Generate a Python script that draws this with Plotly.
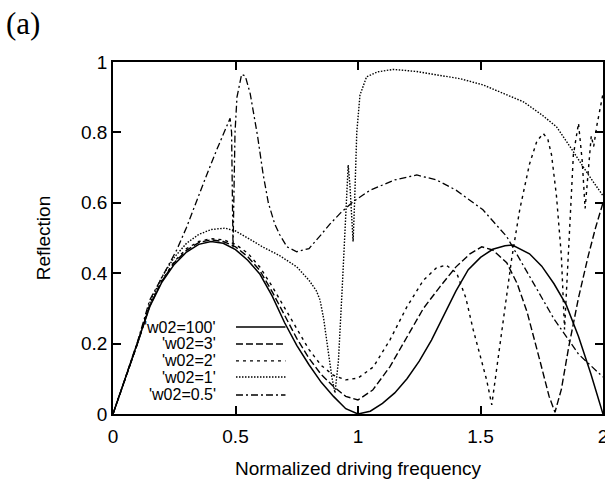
import plotly.graph_objects as go

# ---------------- data ----------------
x_ticks = [0, 0.5, 1, 1.5, 2]
x_tick_labels = ["0", "0.5", "1", "1.5", "2"]
y_ticks = [0, 0.2, 0.4, 0.6, 0.8, 1]
y_tick_labels = ["0", "0.2", "0.4", "0.6", "0.8", "1"]

series_names = ["'w02=100'", "'w02=3'", "'w02=2'", "'w02=1'", "'w02=0.5'"]

w100_x = [0, 0.05, 0.1, 0.15, 0.2, 0.25, 0.3, 0.35, 0.4, 0.45, 0.5, 0.55, 0.6, 0.65, 0.7,
          0.75, 0.8, 0.85, 0.9, 0.95, 1.0, 1.05, 1.1, 1.15, 1.2, 1.25, 1.3, 1.35, 1.4, 1.45,
          1.5, 1.55, 1.6, 1.63, 1.7, 1.75, 1.8, 1.85, 1.9, 1.95, 2.0]
w100_y = [0, 0.1, 0.2, 0.305, 0.375, 0.425, 0.46, 0.482, 0.49, 0.485, 0.467, 0.437, 0.397,
          0.335, 0.26, 0.195, 0.14, 0.09, 0.05, 0.015, 0.0, 0.008, 0.03, 0.06, 0.1, 0.15,
          0.21, 0.28, 0.35, 0.41, 0.445, 0.468, 0.478, 0.48, 0.455, 0.42, 0.37, 0.31, 0.22,
          0.115, 0.0]

w3_x = [0, 0.05, 0.1, 0.15, 0.2, 0.25, 0.3, 0.35, 0.4, 0.45, 0.5, 0.55, 0.6, 0.65, 0.7,
        0.75, 0.8, 0.85, 0.9, 0.95, 1.0, 1.06, 1.13, 1.2, 1.267, 1.335, 1.4, 1.457, 1.505,
        1.55, 1.607, 1.65, 1.69, 1.743, 1.78, 1.804, 1.83, 1.86, 1.9, 1.94, 1.97, 2.0]
w3_y = [0, 0.1, 0.2, 0.307, 0.378, 0.43, 0.465, 0.487, 0.495, 0.49, 0.475, 0.447, 0.407,
        0.347, 0.28, 0.215, 0.158, 0.112, 0.078, 0.05, 0.04, 0.068, 0.134, 0.22, 0.3,
        0.362, 0.418, 0.455, 0.475, 0.466, 0.43, 0.37, 0.29, 0.15, 0.05, 0.005, 0.07,
        0.19, 0.33, 0.45, 0.53, 0.6]

w2_x = [0, 0.05, 0.1, 0.15, 0.2, 0.25, 0.3, 0.35, 0.4, 0.45, 0.5, 0.55, 0.6, 0.65, 0.7,
        0.75, 0.8, 0.85, 0.9, 0.95, 1.0, 1.063, 1.13, 1.2, 1.267, 1.32, 1.36, 1.403, 1.44,
        1.47, 1.5, 1.525, 1.546, 1.57, 1.6, 1.627, 1.66, 1.7, 1.73, 1.756, 1.775, 1.79,
        1.81, 1.83, 1.843, 1.858, 1.879, 1.9, 1.915, 1.927, 1.94, 1.952, 1.962, 1.975, 2.0]
w2_y = [0, 0.1, 0.2, 0.31, 0.38, 0.433, 0.47, 0.49, 0.498, 0.495, 0.482, 0.457, 0.417,
        0.362, 0.302, 0.242, 0.183, 0.138, 0.11, 0.097, 0.102, 0.134, 0.21, 0.305, 0.38,
        0.415, 0.423, 0.4, 0.33, 0.24, 0.16, 0.097, 0.026, 0.15, 0.3, 0.44, 0.58, 0.71,
        0.775, 0.797, 0.78, 0.736, 0.62, 0.45, 0.24, 0.45, 0.736, 0.826, 0.72, 0.584, 0.7,
        0.79, 0.76, 0.82, 0.91]

w1_x = [0, 0.05, 0.1, 0.15, 0.2, 0.25, 0.3, 0.35, 0.4, 0.457, 0.5, 0.55, 0.61, 0.68,
        0.75, 0.8, 0.83, 0.845, 0.86, 0.872, 0.893, 0.906, 0.92, 0.935, 0.954, 0.96,
        0.967, 0.974, 0.98, 0.986, 0.995, 1.008, 1.035, 1.08, 1.144, 1.24, 1.335, 1.42,
        1.51, 1.6, 1.675, 1.75, 1.81, 1.87, 1.94, 2.0]
w1_y = [0, 0.1, 0.2, 0.315, 0.39, 0.445, 0.485, 0.51, 0.524, 0.528, 0.52, 0.5, 0.475,
        0.45, 0.418, 0.38, 0.35, 0.324, 0.27, 0.21, 0.106, 0.06, 0.15, 0.35, 0.636, 0.707,
        0.65, 0.55, 0.49, 0.6, 0.8, 0.906, 0.958, 0.972, 0.979, 0.973, 0.963, 0.952,
        0.935, 0.91, 0.887, 0.85, 0.816, 0.755, 0.68, 0.62]

w05_x = [0, 0.05, 0.1, 0.15, 0.2, 0.26, 0.3, 0.342, 0.38, 0.423, 0.455, 0.478, 0.484,
         0.487, 0.49, 0.493, 0.498, 0.506, 0.525, 0.54, 0.56, 0.59, 0.613, 0.634, 0.66,
         0.68, 0.71, 0.75, 0.8, 0.85, 0.886, 0.927, 0.98, 1.05, 1.15, 1.24, 1.32, 1.4,
         1.51, 1.607, 1.7, 1.8, 1.9, 2.0]
w05_y = [0, 0.1, 0.205, 0.324, 0.39, 0.466, 0.53, 0.608, 0.675, 0.75, 0.8, 0.84, 0.8,
         0.62, 0.47, 0.6, 0.8, 0.9, 0.965, 0.96, 0.91, 0.79, 0.68, 0.6, 0.54, 0.51, 0.475,
         0.461, 0.47, 0.51, 0.54, 0.57, 0.603, 0.636, 0.665, 0.679, 0.665, 0.636, 0.58,
         0.504, 0.39, 0.27, 0.17, 0.105]

# ---------------- styles ----------------
styles = [
    dict(dash="solid", width=1.5),
    dict(dash="7px,3px", width=1.4),
    dict(dash="3px,4px", width=1.4),
    dict(dash="1.5px,1.5px", width=1.4),
    dict(dash="7px,3px,2px,3px", width=1.3),
]
series_x = [w100_x, w3_x, w2_x, w1_x, w05_x]
series_y = [w100_y, w3_y, w2_y, w1_y, w05_y]

FONT = "Liberation Sans, Arial, Helvetica"

fig = go.Figure()
for name, xs, ys, st in zip(series_names, series_x, series_y, styles):
    fig.add_trace(go.Scatter(x=xs, y=ys, mode="lines", name=name, showlegend=False,
                             hoverinfo="skip",
                             line=dict(color="black", dash=st["dash"], width=st["width"])))

# gnuplot-style key: text right-aligned, sample line to its right
key_text_x = 0.215      # paper fraction
key_line_x0 = 0.251
key_line_x1 = 0.352
key_rows_y = [0.247, 0.199, 0.151, 0.105, 0.054]
for name, st, ky in zip(series_names, styles, key_rows_y):
    fig.add_annotation(x=key_text_x, y=ky, xref="paper", yref="paper", text=name,
                       showarrow=False, xanchor="right", yanchor="middle",
                       font=dict(family=FONT, size=16, color="black"))
    fig.add_shape(type="line", xref="paper", yref="paper", x0=key_line_x0, x1=key_line_x1,
                  y0=ky, y1=ky, line=dict(color="black", dash=st["dash"], width=st["width"]))

fig.add_annotation(x=-0.222, y=1.165, xref="paper", yref="paper", text="(a)",
                   showarrow=False, xanchor="left", yanchor="top",
                   font=dict(family="Liberation Serif, Times New Roman", size=31, color="black"))

axis_common = dict(showgrid=False, zeroline=False, showline=True, linecolor="black",
                   linewidth=1.8, mirror="ticks", ticks="inside", ticklen=8,
                   tickcolor="black", tickwidth=1.5, automargin=False,
                   ticklabeloverflow="allow",
                   tickfont=dict(family=FONT, size=19, color="black"))

fig.update_xaxes(range=[0, 2], tickvals=x_ticks, ticktext=x_tick_labels,
                 ticklabelstandoff=4,
                 title=dict(text="Normalized driving frequency", standoff=16,
                            font=dict(family=FONT, size=19, color="black")),
                 **axis_common)
fig.update_yaxes(range=[0, 1], tickvals=y_ticks, ticktext=y_tick_labels,
                 title=dict(text="Reflection", standoff=25,
                            font=dict(family=FONT, size=19, color="black")),
                 **axis_common)

fig.update_layout(width=605, height=487, margin=dict(l=113, r=2, t=62, b=73),
                  plot_bgcolor="white", paper_bgcolor="white", showlegend=False)

# remove the page's default body margin so the figure fills the window exactly
fig.write_html("out.html", config={"displayModeBar": False},
               post_script="document.body.style.margin='0';document.body.style.overflow='hidden';")
